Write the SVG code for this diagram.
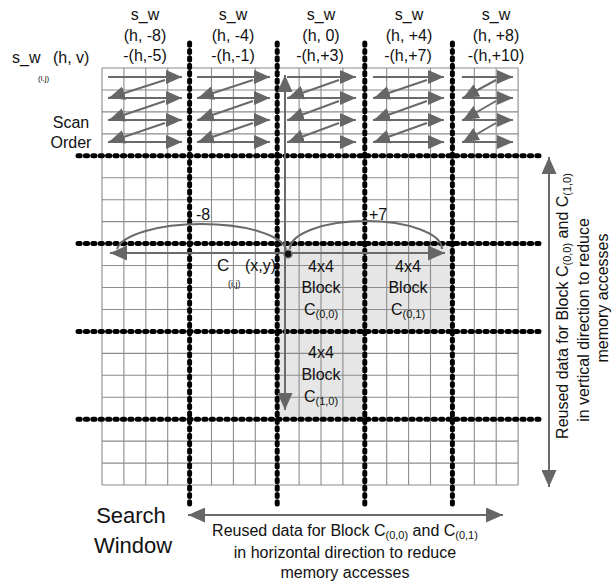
<svg xmlns="http://www.w3.org/2000/svg" width="614" height="586" viewBox="0 0 614 586">
<style>
text{font-family:"Liberation Sans",Arial,sans-serif;fill:#111;}
.t16{font-size:16px;}
.blk{font-size:16px;text-anchor:middle;}
.sub{font-size:11px;}
.grid{stroke:#8c8c8c;stroke-width:1.1;fill:none;}
.dot{stroke:#000;stroke-width:5;stroke-dasharray:2.2 5.2;stroke-linecap:round;fill:none;}
.shade{fill:#e6e6e6;}
.sc{stroke:#6a6a6a;stroke-width:2;fill:none;marker-end:url(#sh);}
.big{stroke:#6a6a6a;stroke-width:2;fill:none;marker-start:url(#bh);marker-end:url(#bh);}
.arc{stroke:#6a6a6a;stroke-width:2;fill:none;}
</style>
<defs>
<marker id="sh" viewBox="0 0 16 14" refX="16" refY="7" markerWidth="16" markerHeight="14" markerUnits="userSpaceOnUse" orient="auto-start-reverse"><path d="M0,0 L16,7 L0,14 z" fill="#666"/></marker>
<marker id="bh" viewBox="0 0 17 15" refX="17" refY="7.5" markerWidth="17" markerHeight="15" markerUnits="userSpaceOnUse" orient="auto-start-reverse"><path d="M0,0 L17,7.5 L0,15 z" fill="#666"/></marker>
</defs>
<rect width="614" height="586" fill="#fff"/>

<g id="blocks-shading">
<rect class="shade" x="277.2" y="243.6" width="87.6" height="87.8"/>
<rect class="shade" x="364.8" y="243.6" width="87.6" height="87.8"/>
<rect class="shade" x="277.2" y="331.4" width="87.6" height="87.8"/>
</g>

<g id="search-window-grid">
<path class="grid" d="M102,68V485M123.9,68V485M145.8,68V485M167.7,68V485M189.6,68V485M211.5,68V485M233.4,68V485M255.3,68V485M277.2,68V485M299.1,68V485M321,68V485M342.9,68V485M364.8,68V485M386.7,68V485M408.6,68V485M430.5,68V485M452.4,68V485M474.3,68V485M496.2,68V485M518.1,68V485"/>
<path class="grid" d="M102,68H518.1M102,89.95H518.1M102,111.9H518.1M102,133.85H518.1M102,155.8H518.1M102,177.75H518.1M102,199.7H518.1M102,221.65H518.1M102,243.6H518.1M102,265.55H518.1M102,287.5H518.1M102,309.45H518.1M102,331.4H518.1M102,353.35H518.1M102,375.3H518.1M102,397.25H518.1M102,419.2H518.1M102,441.15H518.1M102,463.1H518.1M102,485.05H518.1"/>
</g>

<g id="block-boundaries">
<path class="dot" d="M189.6,43V505M277.2,43V505M364.8,43V505M452.4,43V505"/>
<path class="dot" d="M78,155.8H540M78,243.6H540M78,331.4H540M78,419.2H540"/>
</g>

<g id="connectors">
<g id="scan-order-arrows">
<path class="sc" d="M108,77H182"/><path class="sc" d="M108,98H182"/><path class="sc" d="M108,120H182"/><path class="sc" d="M108,142H182"/>
<path class="sc" d="M165,80L109,98"/><path class="sc" d="M165,101L109,120"/><path class="sc" d="M165,123L109,142"/>
<path class="sc" d="M197,77H270"/><path class="sc" d="M197,98H270"/><path class="sc" d="M197,120H270"/><path class="sc" d="M197,142H270"/>
<path class="sc" d="M253,80L198,98"/><path class="sc" d="M253,101L198,120"/><path class="sc" d="M253,123L198,142"/>
<path class="sc" d="M287,77H356"/><path class="sc" d="M287,98H356"/><path class="sc" d="M287,120H356"/><path class="sc" d="M287,142H356"/>
<path class="sc" d="M339,80L288,98"/><path class="sc" d="M339,101L288,120"/><path class="sc" d="M339,123L288,142"/>
<path class="sc" d="M373,77H444"/><path class="sc" d="M373,98H444"/><path class="sc" d="M373,120H444"/><path class="sc" d="M373,142H444"/>
<path class="sc" d="M427,80L374,98"/><path class="sc" d="M427,101L374,120"/><path class="sc" d="M427,123L374,142"/>
<path class="sc" d="M462,77H513"/><path class="sc" d="M462,98H513"/><path class="sc" d="M462,120H513"/><path class="sc" d="M462,142H513"/>
<path class="sc" d="M496,80L463,98"/><path class="sc" d="M496,101L463,120"/><path class="sc" d="M496,123L463,142"/>
</g>
<path class="big" d="M285,410V75"/>
<path class="big" d="M110,253H445"/>
<path class="arc" d="M286,249A85 28 0 0 0 117,249"/>
<path class="arc" d="M290,249A76 28 0 0 1 442,249"/>
<path class="big" d="M549,157V487"/>
<path class="big" d="M188,515H503"/>
<circle cx="288" cy="254" r="4" fill="#111" stroke="#777" stroke-width="1.5"/>
</g>

<g id="top-labels">
<text x="145" y="20" text-anchor="middle" class="t16">s_w</text>
<text x="145" y="41" text-anchor="middle" class="t16">(h, -8)</text>
<text x="145" y="61" text-anchor="middle" class="t16">-(h,-5)</text>
<text x="233" y="20" text-anchor="middle" class="t16">s_w</text>
<text x="233" y="41" text-anchor="middle" class="t16">(h, -4)</text>
<text x="233" y="61" text-anchor="middle" class="t16">-(h,-1)</text>
<text x="321" y="20" text-anchor="middle" class="t16">s_w</text>
<text x="321" y="41" text-anchor="middle" class="t16">(h, 0)</text>
<text x="320" y="61" text-anchor="middle" class="t16">-(h,+3)</text>
<text x="409" y="20" text-anchor="middle" class="t16">s_w</text>
<text x="409" y="41" text-anchor="middle" class="t16">(h, +4)</text>
<text x="408" y="61" text-anchor="middle" class="t16">-(h,+7)</text>
<text x="496" y="20" text-anchor="middle" class="t16">s_w</text>
<text x="496" y="41" text-anchor="middle" class="t16">(h, +8)</text>
<text x="496" y="61" text-anchor="middle" class="t16">-(h,+10)</text>
</g>

<g id="legend">
<text x="12" y="63" class="t16">s_w</text>
<text x="38" y="81" font-size="8">(i,j)</text>
<text x="53" y="63" class="t16">(h, v)</text>
<text x="71" y="128" class="t16" text-anchor="middle">Scan</text>
<text x="71" y="148" class="t16" text-anchor="middle">Order</text>
</g>

<g id="current-pixel">
<text x="217" y="271" font-size="17">C</text>
<text x="228" y="287" font-size="9">(i,j)</text>
<text x="245" y="271" class="t16">(x,y)</text>
<text x="196" y="220" class="t16">-8</text>
<text x="369" y="220" class="t16">+7</text>
</g>

<g id="block-c00">
<text x="321" y="272" class="blk">4x4</text>
<text x="321" y="293" class="blk">Block</text>
<text x="321" y="315" class="blk">C<tspan class="sub" dy="3">(0,0)</tspan></text>
</g>
<g id="block-c01">
<text x="408" y="272" class="blk">4x4</text>
<text x="408" y="293" class="blk">Block</text>
<text x="408" y="315" class="blk">C<tspan class="sub" dy="3">(0,1)</tspan></text>
</g>
<g id="block-c10">
<text x="321" y="358" class="blk">4x4</text>
<text x="321" y="380" class="blk">Block</text>
<text x="321" y="402" class="blk">C<tspan class="sub" dy="3">(1,0)</tspan></text>
</g>

<g id="search-window-label">
<text x="131" y="523" font-size="22" text-anchor="middle">Search</text>
<text x="133" y="553" font-size="22" text-anchor="middle">Window</text>
</g>

<g id="horizontal-reuse-label">
<text x="345" y="536" class="t16" text-anchor="middle">Reused data for Block C<tspan class="sub" dy="3">(0,0)</tspan><tspan dy="-3"> and C</tspan><tspan class="sub" dy="3">(0,1)</tspan></text>
<text x="345" y="558" class="t16" text-anchor="middle">in horizontal direction to reduce</text>
<text x="345" y="578" class="t16" text-anchor="middle">memory accesses</text>
</g>

<g id="vertical-reuse-label">
<text transform="translate(568,306) rotate(-90)" class="t16" text-anchor="middle">Reused data for Block C<tspan class="sub" dy="3">(0,0)</tspan><tspan dy="-3"> and C</tspan><tspan class="sub" dy="3">(1,0)</tspan></text>
<text transform="translate(589,320) rotate(-90)" class="t16" text-anchor="middle">in vertical direction to reduce</text>
<text transform="translate(608,298) rotate(-90)" class="t16" text-anchor="middle">memory accesses</text>
</g>
</svg>
